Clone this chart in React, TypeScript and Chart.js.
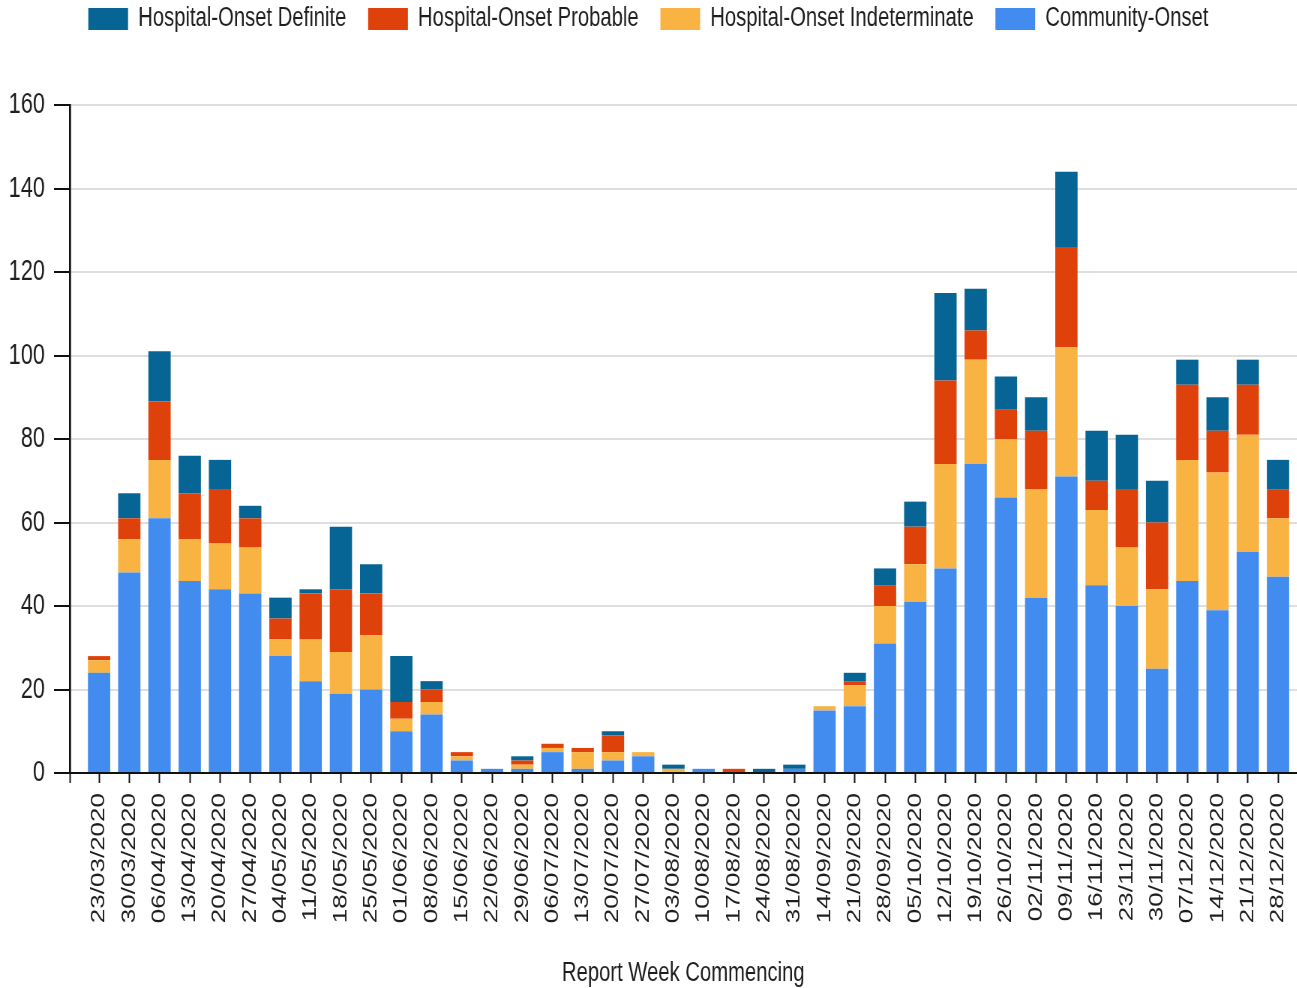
import React, { useEffect, useRef } from 'react';
import { Chart, registerables } from 'chart.js';

Chart.register(...registerables);

// ---- data -------------------------------------------------------------
const weeks = [
  '23/03/2020', '30/03/2020', '06/04/2020', '13/04/2020', '20/04/2020', '27/04/2020',
  '04/05/2020', '11/05/2020', '18/05/2020', '25/05/2020', '01/06/2020', '08/06/2020',
  '15/06/2020', '22/06/2020', '29/06/2020', '06/07/2020', '13/07/2020', '20/07/2020',
  '27/07/2020', '03/08/2020', '10/08/2020', '17/08/2020', '24/08/2020', '31/08/2020',
  '14/09/2020', '21/09/2020', '28/09/2020', '05/10/2020', '12/10/2020', '19/10/2020',
  '26/10/2020', '02/11/2020', '09/11/2020', '16/11/2020', '23/11/2020', '30/11/2020',
  '07/12/2020', '14/12/2020', '21/12/2020', '28/12/2020',
];

const communityOnset = [
  24, 48, 61, 46, 44, 43, 28, 22, 19, 20, 10, 14,
  3, 1, 1, 5, 1, 3, 4, 0, 1, 0, 0, 1,
  15, 16, 31, 41, 49, 74, 66, 42, 71, 45, 40, 25,
  46, 39, 53, 47,
];

const hospitalIndeterminate = [
  3, 8, 14, 10, 11, 11, 4, 10, 10, 13, 3, 3,
  1, 0, 1, 1, 4, 2, 1, 1, 0, 0, 0, 0,
  1, 5, 9, 9, 25, 25, 14, 26, 31, 18, 14, 19,
  29, 33, 28, 14,
];

const hospitalProbable = [
  1, 5, 14, 11, 13, 7, 5, 11, 15, 10, 4, 3,
  1, 0, 1, 1, 1, 4, 0, 0, 0, 1, 0, 0,
  0, 1, 5, 9, 20, 7, 7, 14, 24, 7, 14, 16,
  18, 10, 12, 7,
];

const hospitalDefinite = [
  0, 6, 12, 9, 7, 3, 5, 1, 15, 7, 11, 2,
  0, 0, 1, 0, 0, 1, 0, 1, 0, 0, 1, 1,
  0, 2, 4, 6, 21, 10, 8, 8, 18, 12, 13, 10,
  6, 8, 6, 7,
];

const yMin = 0;
const yMax = 160;
const yStep = 20;
const xTitle = 'Report Week Commencing';

// ---- layout (the reference is horizontally condensed) ------------------
const SQUEEZE = 0.75;
const OUT_W = 1297;
const OUT_H = 988;
const CANVAS_W = Math.round(OUT_W / SQUEEZE);
const LEGEND_H = 105;
const LEGEND_TOP = -23.5;
const FONT = "'Liberation Sans', Arial, Helvetica, sans-serif";
const TEXT = '#1e1e1e';
const AXIS = '#111111';

const legendPlacement = {
  id: 'legendPlacement',
  beforeLayout(chart: any) {
    const lg = chart.legend;
    if (lg && !lg._fitPatched) {
      const orig = lg.fit;
      lg.fit = function () {
        orig.call(this);
        this.height = LEGEND_H;
      };
      lg._fitPatched = true;
    }
  },
  afterLayout(chart: any) {
    const lg = chart.legend;
    if (lg) {
      lg.top = LEGEND_TOP;
      lg.bottom = LEGEND_TOP + LEGEND_H;
    }
  },
};

const zeroPadding = (scale: any) => {
  scale.paddingLeft = 0;
  scale.paddingRight = 0;
  scale.paddingTop = 0;
  scale.paddingBottom = 0;
};

export default function App() {
  const canvasRef = useRef<HTMLCanvasElement | null>(null);

  useEffect(() => {
    const canvas = canvasRef.current;
    if (!canvas) return;
    Chart.defaults.font.family = FONT;

    const chart = new Chart(canvas, {
      type: 'bar',
      data: {
        labels: weeks.map((_, i) => i),
        datasets: [
          { label: 'Community-Onset', data: communityOnset, backgroundColor: '#438CEF', borderWidth: 0 },
          { label: 'Hospital-Onset Indeterminate', data: hospitalIndeterminate, backgroundColor: '#F9B342', borderWidth: 0 },
          { label: 'Hospital-Onset Probable', data: hospitalProbable, backgroundColor: '#DF410B', borderWidth: 0 },
          { label: 'Hospital-Onset Definite', data: hospitalDefinite, backgroundColor: '#066594', borderWidth: 0 },
        ],
      },
      options: {
        animation: false,
        responsive: false,
        maintainAspectRatio: false,
        devicePixelRatio: 1,
        layout: { padding: 0, autoPadding: false },
        datasets: {
          bar: { categoryPercentage: 1, barPercentage: 0.76 },
        },
        plugins: {
          tooltip: { enabled: false },
          legend: {
            display: true,
            position: 'top',
            reverse: true,
            labels: {
              boxWidth: 53,
              boxHeight: 22,
              padding: 29,
              color: TEXT,
              font: { size: 27, family: FONT },
            },
          },
        },
        scales: {
          x: {
            type: 'linear',
            stacked: true,
            offset: false,
            min: -0.97,
            max: 39.62,
            afterBuildTicks: (scale: any) => {
              scale.ticks = [{ value: scale.min }, ...weeks.map((_, i) => ({ value: i }))];
            },
            afterFit: (scale: any) => {
              scale.height = 215;
              zeroPadding(scale);
            },
            grid: {
              display: true,
              drawOnChartArea: false,
              drawTicks: true,
              offset: false,
              tickLength: 10,
              tickColor: AXIS,
              tickWidth: 2,
            },
            border: { display: true, color: AXIS, width: 2 },
            ticks: {
              autoSkip: false,
              minRotation: 90,
              maxRotation: 90,
              padding: 10,
              color: TEXT,
              font: { size: 26, family: FONT },
              callback: (value: any) => {
                const v = Number(value);
                return Number.isInteger(v) && v >= 0 && v < weeks.length ? weeks[v] : '';
              },
            },
            title: {
              display: true,
              text: xTitle,
              color: TEXT,
              font: { size: 27, family: FONT, lineHeight: 1 },
              padding: { top: 0, bottom: 1 },
            },
          },
          y: {
            stacked: true,
            min: yMin,
            max: yMax,
            afterFit: (scale: any) => {
              scale.width = 93;
              zeroPadding(scale);
            },
            grid: {
              color: '#dedede',
              lineWidth: 2,
              drawTicks: true,
              tickLength: 21,
              tickColor: AXIS,
              tickWidth: 2,
            },
            border: { display: true, color: AXIS, width: 2.7 },
            ticks: {
              stepSize: yStep,
              padding: 12,
              color: TEXT,
              font: { size: 29, family: FONT },
            },
          },
        },
      },
      plugins: [legendPlacement],
    } as any);

    return () => chart.destroy();
  }, []);

  return (
    <div
      style={{
        position: 'fixed',
        left: 0,
        top: 0,
        width: OUT_W,
        height: OUT_H,
        overflow: 'hidden',
        background: '#ffffff',
      }}
    >
      <canvas
        ref={canvasRef}
        width={CANVAS_W}
        height={OUT_H}
        style={{
          display: 'block',
          width: `${CANVAS_W}px`,
          height: `${OUT_H}px`,
          transform: `scaleX(${SQUEEZE})`,
          transformOrigin: '0 0',
        }}
      />
    </div>
  );
}
